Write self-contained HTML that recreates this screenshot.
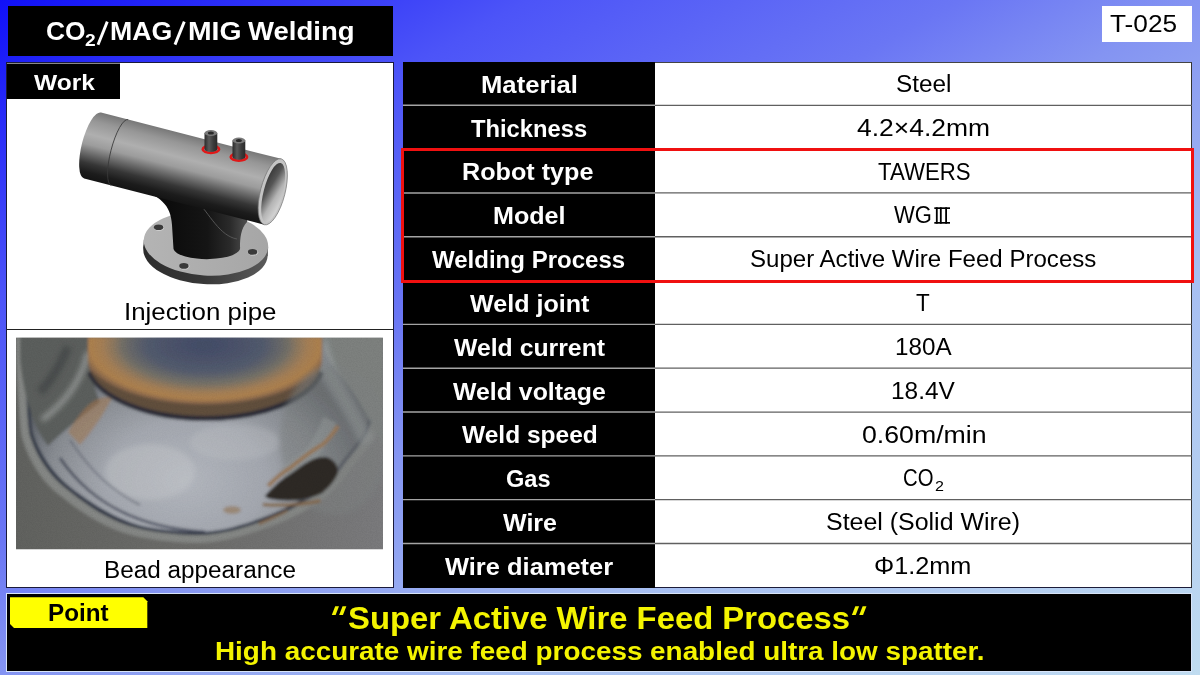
<!DOCTYPE html>
<html><head><meta charset="utf-8">
<style>
html,body{margin:0;padding:0;}
body{width:1200px;height:675px;overflow:hidden;position:relative;font-family:"Liberation Sans",sans-serif;
background:linear-gradient(to bottom right,#1010f8 0%,#4c54f8 22%,#6a76f4 40%,#8494f2 50%,#a6bef2 70%,#c0dcf0 100%);}
.t{position:absolute;white-space:nowrap;line-height:1;transform-origin:0 0;}
.box{position:absolute;box-sizing:border-box;}
</style></head><body>
<div class="box" style="left:7.5px;top:6px;width:385.5px;height:50px;background:#000;"></div>
<div class="box" style="left:1102px;top:5.5px;width:90px;height:36.5px;background:#fff;"></div>
<div class="box" style="left:6px;top:62px;width:388px;height:526px;background:#fff;border:1px solid #1a1a3a;"></div>
<div class="box" style="left:7px;top:328.5px;width:386px;height:1.2px;background:#222;"></div>
<div class="box" style="left:7px;top:63px;width:113px;height:36px;background:#000;border-top:1px solid #888;"></div>
<svg style="position:absolute;left:0;top:0" width="1200" height="675">
<defs>
<linearGradient id="pg" x1="0" y1="-34" x2="0" y2="34" gradientUnits="userSpaceOnUse">
<stop offset="0" stop-color="#787878"/><stop offset="0.15" stop-color="#979797"/><stop offset="0.35" stop-color="#afafaf"/>
<stop offset="0.5" stop-color="#9c9c9c"/><stop offset="0.63" stop-color="#6a6a6a"/><stop offset="0.77" stop-color="#363636"/><stop offset="0.9" stop-color="#1c1c1c"/><stop offset="1" stop-color="#141414"/>
</linearGradient>
<linearGradient id="inn" x1="0" y1="0" x2="1" y2="1">
<stop offset="0" stop-color="#2a2a2a"/><stop offset="0.35" stop-color="#555"/><stop offset="0.62" stop-color="#b4b4b4"/><stop offset="1" stop-color="#e8e8e8"/>
</linearGradient>
<linearGradient id="br" x1="170" y1="0" x2="245" y2="0" gradientUnits="userSpaceOnUse">
<stop offset="0" stop-color="#0c0c0c"/><stop offset="0.5" stop-color="#151515"/><stop offset="0.8" stop-color="#2a2a2a"/><stop offset="1" stop-color="#4a4a4a"/>
</linearGradient>
<linearGradient id="fside" x1="0" y1="0" x2="1" y2="0">
<stop offset="0" stop-color="#2c2c2c"/><stop offset="0.5" stop-color="#383838"/><stop offset="1" stop-color="#5a5a5a"/>
</linearGradient>
<linearGradient id="ftop" x1="0" y1="0" x2="1" y2="0">
<stop offset="0" stop-color="#b4b4b4"/><stop offset="1" stop-color="#a6a6a6"/>
</linearGradient>
<linearGradient id="nip" x1="0" y1="0" x2="1" y2="0">
<stop offset="0" stop-color="#2a2a2a"/><stop offset="0.35" stop-color="#5a5a5a"/><stop offset="0.7" stop-color="#3a3a3a"/><stop offset="1" stop-color="#2a2a2a"/>
</linearGradient>
<linearGradient id="hl" x1="60" y1="0" x2="186" y2="0" gradientUnits="userSpaceOnUse">
<stop offset="0" stop-color="#fff" stop-opacity="0"/><stop offset="1" stop-color="#fff" stop-opacity="0.32"/>
</linearGradient>
</defs>
<!-- flange -->
<g transform="rotate(3.5 206 243.5)">
<ellipse cx="206" cy="252.2" rx="62.3" ry="32" fill="url(#fside)"/>
<rect x="143.7" y="243.5" width="124.6" height="8.7" fill="url(#fside)"/>
<ellipse cx="206" cy="243.5" rx="62.3" ry="32" fill="url(#ftop)"/>
</g>
<g>
<ellipse cx="159" cy="227.7" rx="5.2" ry="3.3" fill="#cfcfcf"/>
<ellipse cx="158.6" cy="227.3" rx="4.7" ry="2.8" fill="#3a3a3a"/>
<ellipse cx="184.3" cy="266.3" rx="5.2" ry="3.3" fill="#cfcfcf"/>
<ellipse cx="183.9" cy="265.9" rx="4.7" ry="2.8" fill="#3a3a3a"/>
<ellipse cx="253" cy="252.3" rx="5.2" ry="3.3" fill="#cfcfcf"/>
<ellipse cx="252.6" cy="251.9" rx="4.7" ry="2.8" fill="#3a3a3a"/>
</g>
<!-- branch -->
<path d="M135,188 C160,195 171,205 172,225 L173.5,249 A33,11 0 0 0 240,247 C240,238 241,228 247,222 L250,200 Z" fill="url(#br)"/>
<path d="M195,198 C210,215 220,236 237,239" fill="none" stroke="#555" stroke-width="1"/>
<!-- pipe -->
<g transform="translate(92.6,145.55) rotate(14.4)">
<path d="M0,-34 L186,-34 L186,34 L0,34 A10.8,34 0 0 1 0,-34 Z" fill="url(#pg)"/>
<path d="M28,-34 A9,34 0 0 0 28,34" fill="none" stroke="#3a3a3a" stroke-width="0.8"/>

<ellipse cx="186" cy="0" rx="12.3" ry="34" fill="#c4c4c4" stroke="#777" stroke-width="0.7"/>
<ellipse cx="186.6" cy="0.6" rx="9.6" ry="30.5" fill="url(#inn)"/>
</g>
<!-- nipples -->
<ellipse cx="210.9" cy="149.3" rx="8.2" ry="3.6" fill="none" stroke="#e01818" stroke-width="2.6"/>
<path d="M204.5,133 L204.5,149 A6.4,3 0 0 0 217.3,149 L217.3,133 Z" fill="url(#nip)"/>
<ellipse cx="210.9" cy="133" rx="6.4" ry="3" fill="#7a7a7a"/>
<ellipse cx="210.9" cy="133" rx="3" ry="1.6" fill="#2a2a2a"/>
<ellipse cx="238.9" cy="157.0" rx="8.2" ry="3.6" fill="none" stroke="#e01818" stroke-width="2.6"/>
<path d="M232.5,140.5 L232.5,156.7 A6.4,3 0 0 0 245.3,156.7 L245.3,140.5 Z" fill="url(#nip)"/>
<ellipse cx="238.9" cy="140.5" rx="6.4" ry="3" fill="#7a7a7a"/>
<ellipse cx="238.9" cy="140.5" rx="3" ry="1.6" fill="#2a2a2a"/>
</svg>
<svg style="position:absolute;left:0;top:0" width="1200" height="675">
<defs>
<clipPath id="pc"><rect x="16" y="337.5" width="367" height="212"/></clipPath>
<linearGradient id="bgp" x1="0" y1="0" x2="1" y2="0">
<stop offset="0" stop-color="#5a5b58"/><stop offset="0.5" stop-color="#656563"/><stop offset="1" stop-color="#727274"/>
</linearGradient>
<radialGradient id="bead" cx="185" cy="480" r="180" gradientUnits="userSpaceOnUse" gradientTransform="translate(185 480) scale(1 0.72) translate(-185 -480)">
<stop offset="0" stop-color="#acb0b8"/><stop offset="0.45" stop-color="#9ca0a8"/><stop offset="0.75" stop-color="#80848a"/><stop offset="1" stop-color="#52565c"/>
</radialGradient>
<radialGradient id="cyl" cx="205" cy="345" r="128" gradientUnits="userSpaceOnUse" gradientTransform="translate(205 345) scale(1 0.47) translate(-205 -345)">
<stop offset="0" stop-color="#4a5266"/><stop offset="0.45" stop-color="#535a68"/><stop offset="0.65" stop-color="#6e6a60"/><stop offset="0.8" stop-color="#9c7650"/><stop offset="0.9" stop-color="#a67848"/><stop offset="0.97" stop-color="#7e6046"/><stop offset="1" stop-color="#5a4838"/>
</radialGradient>
<linearGradient id="cylside" x1="88" y1="0" x2="322" y2="0" gradientUnits="userSpaceOnUse">
<stop offset="0" stop-color="#6a5038" stop-opacity="0.6"/><stop offset="0.12" stop-color="#9a7048" stop-opacity="0.45"/><stop offset="0.3" stop-color="#a07448" stop-opacity="0"/>
<stop offset="0.7" stop-color="#a07448" stop-opacity="0"/><stop offset="0.88" stop-color="#9a7048" stop-opacity="0.45"/><stop offset="1" stop-color="#6a5038" stop-opacity="0.6"/>
</linearGradient>
<radialGradient id="cyltop" cx="205" cy="345" r="90" gradientUnits="userSpaceOnUse" gradientTransform="translate(205 345) scale(1 0.4) translate(-205 -345)">
<stop offset="0" stop-color="#3e4660" stop-opacity="0.9"/><stop offset="1" stop-color="#3e4660" stop-opacity="0"/>
</radialGradient>
<filter id="bl" x="-10%" y="-10%" width="120%" height="120%"><feGaussianBlur stdDeviation="1.5"/></filter>
<filter id="bl4" x="-30%" y="-30%" width="160%" height="160%"><feGaussianBlur stdDeviation="2.5"/></filter>
<filter id="noise" x="0" y="0" width="100%" height="100%">
<feTurbulence type="fractalNoise" baseFrequency="0.8" numOctaves="2" seed="3"/>
<feColorMatrix type="matrix" values="0 0 0 0 0.5  0 0 0 0 0.5  0 0 0 0 0.5  0 0 0 0.9 0"/>
</filter>
</defs>
<g clip-path="url(#pc)">
<rect x="16" y="337.5" width="367" height="212" fill="url(#bgp)"/>
<g filter="url(#bl)">
<!-- outer rim -->
<path d="M16,360 C18,400 20,430 22,438 C30,465 45,485 62,497 C90,520 115,532 139,537 C160,541 180,543 200,543 C230,542 255,532 277,524 C295,517 310,508 323,500 C335,490 345,478 353,466 C362,455 370,446 375,438 C380,425 383,410 383,390 L383,337 L16,337 Z" fill="#7c7e7c"/>
<path d="M24,337 C26,400 28,428 30,436 C38,460 52,478 68,490 C95,512 118,524 141,529 C162,533 182,535 200,535 C228,534 252,525 273,517 C291,510 305,502 317,494 C329,485 338,473 346,462 C355,451 362,442 367,434 C372,422 375,408 375,390 L375,337 Z" fill="#2c3240"/>
<!-- bead -->
<path d="M27,337 C29,400 31,427 33,434 C41,457 55,475 70,487 C97,508 120,520 142,526 C163,530 182,532 200,532 C227,531 251,522 272,514 C289,507 303,499 315,491 C326,482 335,471 343,460 C352,449 359,440 364,432 C369,420 372,407 372,390 L372,337 Z" fill="url(#bead)"/>
<!-- left dark ring zone -->
<path d="M20,337 L92,337 C90,365 92,385 100,402 C80,418 62,432 48,446 C32,425 24,395 20,360 Z" fill="#555856"/>
<path d="M88,352 C82,380 66,402 42,420" fill="none" stroke="#b0b4b2" stroke-width="5" opacity="0.6" filter="url(#bl4)"/>
<path d="M68,347 C60,366 52,380 40,392" fill="none" stroke="#34383a" stroke-width="8" opacity="0.6" filter="url(#bl4)"/>
<!-- top-right gray zone -->
<path d="M322,337 L383,337 L383,445 C372,425 360,398 342,378 C332,367 323,352 322,337 Z" fill="#747876"/>
<path d="M326,337 C332,368 350,392 374,440 L360,445 C345,410 325,385 312,360 Z" fill="#9ca2a4" opacity="0.55" filter="url(#bl4)"/>
<!-- orange heat tint -->
<path d="M68,432 C85,405 95,395 112,398 C105,412 95,428 80,445 Z" fill="#9a7048" opacity="0.55"/>
<!-- dark line under cylinder -->
<path d="M90,372 A118,58 0 0 0 321,372" fill="none" stroke="#262830" stroke-width="6"/>
<!-- cylinder -->
<path d="M88,337 L322,337 L322,360 A117,56 0 0 1 88,360 Z" fill="url(#cyl)"/>

<rect x="100" y="330" width="210" height="50" fill="url(#cyltop)"/>
<!-- light patches on bead -->
<ellipse cx="150" cy="472" rx="45" ry="28" fill="#c8cacc" opacity="0.35" filter="url(#bl4)"/>
<ellipse cx="235" cy="442" rx="45" ry="18" fill="#c0c2c6" opacity="0.3" filter="url(#bl4)"/>
<!-- dark streaks bottom-left -->
<path d="M60,458 C92,505 140,528 205,532" fill="none" stroke="#2c3040" stroke-width="3" opacity="0.75"/>
<path d="M70,440 C90,470 110,490 140,505" fill="none" stroke="#3c4050" stroke-width="2" opacity="0.5"/>
<ellipse cx="335" cy="440" rx="55" ry="75" fill="#747878" opacity="0.55" filter="url(#bl4)"/>
<!-- burnt patch -->
<path d="M330,420 C325,430 320,445 310,455 C300,462 290,470 282,476" fill="none" stroke="#8a9090" stroke-width="14" opacity="0.5"/>
<path d="M264.6,496.3 C272,488 280,480 287.7,475.6 C296,470 303,464 310.8,460.2 C318,457 325,456 330,458.5 C336,462 339,468 337.7,473.7 C334,482 328,488 322.3,492.9 C312,498 302,500 293.5,500.6 C284,501 275,500 268.5,498.7 Z" fill="#2a2622"/>
<path d="M268,486 C276,478 283,472 290,468 C300,460 312,450 322,445 C330,438 334,432 338,426" fill="none" stroke="#8e6e50" stroke-width="4"/>
<path d="M262.7,504.5 C285,506 305,504 320.4,500.7" fill="none" stroke="#7a5e40" stroke-width="3.5" opacity="0.85"/>
<path d="M258.8,523.9 C268,520 278,515 287.7,510.5" fill="none" stroke="#7a5e40" stroke-width="3" opacity="0.8"/>
<ellipse cx="232" cy="510" rx="9" ry="4" fill="#8a6a4a" opacity="0.6"/>
</g>
<rect x="16" y="337.5" width="367" height="212" filter="url(#noise)" opacity="0.25" style="mix-blend-mode:overlay"/>
</g>
</svg>
<div class="box" style="left:403px;top:61.5px;width:252px;height:526.6px;background:#000;"></div>
<div class="box" style="left:655px;top:61.5px;width:537px;height:526.6px;background:#fff;border-right:1px solid #333;border-bottom:1.4px solid #1c1c38;border-top:1px solid #444;"></div>
<svg style="position:absolute;left:0;top:0" width="1200" height="675"><line x1="403" y1="105.32" x2="655" y2="105.32" stroke="#a4a4a4" stroke-width="1.4"/><line x1="655" y1="105.32" x2="1192" y2="105.32" stroke="#606060" stroke-width="1.3"/><line x1="403" y1="149.13" x2="655" y2="149.13" stroke="#a4a4a4" stroke-width="1.4"/><line x1="655" y1="149.13" x2="1192" y2="149.13" stroke="#606060" stroke-width="1.3"/><line x1="403" y1="192.95" x2="655" y2="192.95" stroke="#a4a4a4" stroke-width="1.4"/><line x1="655" y1="192.95" x2="1192" y2="192.95" stroke="#606060" stroke-width="1.3"/><line x1="403" y1="236.77" x2="655" y2="236.77" stroke="#a4a4a4" stroke-width="1.4"/><line x1="655" y1="236.77" x2="1192" y2="236.77" stroke="#606060" stroke-width="1.3"/><line x1="403" y1="280.58" x2="655" y2="280.58" stroke="#a4a4a4" stroke-width="1.4"/><line x1="655" y1="280.58" x2="1192" y2="280.58" stroke="#606060" stroke-width="1.3"/><line x1="403" y1="324.40" x2="655" y2="324.40" stroke="#a4a4a4" stroke-width="1.4"/><line x1="655" y1="324.40" x2="1192" y2="324.40" stroke="#606060" stroke-width="1.3"/><line x1="403" y1="368.22" x2="655" y2="368.22" stroke="#a4a4a4" stroke-width="1.4"/><line x1="655" y1="368.22" x2="1192" y2="368.22" stroke="#606060" stroke-width="1.3"/><line x1="403" y1="412.03" x2="655" y2="412.03" stroke="#a4a4a4" stroke-width="1.4"/><line x1="655" y1="412.03" x2="1192" y2="412.03" stroke="#606060" stroke-width="1.3"/><line x1="403" y1="455.85" x2="655" y2="455.85" stroke="#a4a4a4" stroke-width="1.4"/><line x1="655" y1="455.85" x2="1192" y2="455.85" stroke="#606060" stroke-width="1.3"/><line x1="403" y1="499.67" x2="655" y2="499.67" stroke="#a4a4a4" stroke-width="1.4"/><line x1="655" y1="499.67" x2="1192" y2="499.67" stroke="#606060" stroke-width="1.3"/><line x1="403" y1="543.48" x2="655" y2="543.48" stroke="#a4a4a4" stroke-width="1.4"/><line x1="655" y1="543.48" x2="1192" y2="543.48" stroke="#606060" stroke-width="1.3"/></svg>
<div class="box" style="left:401px;top:148px;width:792.5px;height:135px;border:3px solid #f01010;"></div>
<div class="box" style="left:6px;top:593px;width:1186px;height:78.5px;background:#000;border:1px solid #d8e4f8;"></div>
<svg style="position:absolute;left:0;top:0" width="1200" height="675"><polygon points="10,597.3 143.3,597.3 147.3,601.3 147.3,628 14,628 10,624" fill="#ffff00"/></svg>
<div class="t" style="left:46.25px;top:18.47px;font-size:26.5px;font-weight:bold;color:#fff;transform:scaleX(0.9939);">CO</div>
<div class="t" style="left:84.72px;top:32.33px;font-size:16.5px;font-weight:bold;color:#fff;transform:scaleX(1.1626);">2</div>
<div class="t" style="left:110.26px;top:18.47px;font-size:26.5px;font-weight:bold;color:#fff;transform:scaleX(1.0074);">MAG</div>
<div class="t" style="left:188.16px;top:18.47px;font-size:26.5px;font-weight:bold;color:#fff;transform:scaleX(1.0690);">MIG</div>
<div class="t" style="left:248.00px;top:18.47px;font-size:26.5px;font-weight:bold;color:#fff;transform:scaleX(1.0384);">Welding</div>
<svg style="position:absolute;left:0;top:0" width="1200" height="675"><g stroke="#fff" stroke-width="2.9" stroke-linecap="butt"><line x1="98.0" y1="44.8" x2="107.3" y2="21.6"/><line x1="175.0" y1="44.6" x2="184.3" y2="21.6"/></g></svg>
<div class="t" style="left:1110.47px;top:13.16px;font-size:23.2px;font-weight:normal;color:#000;transform:scaleX(1.1316);">T-025</div>
<div class="t" style="left:33.50px;top:72.08px;font-size:22px;font-weight:bold;color:#fff;transform:scaleX(1.1158);">Work</div>
<div class="t" style="left:123.67px;top:300.61px;font-size:23.5px;font-weight:normal;color:#000;transform:scaleX(1.1008);">Injection pipe</div>
<div class="t" style="left:103.56px;top:558.53px;font-size:23px;font-weight:normal;color:#000;transform:scaleX(1.0569);">Bead appearance</div>
<div class="t" style="left:480.63px;top:72.78px;font-size:24px;font-weight:bold;color:#fff;transform:scaleX(1.0688);">Material</div>
<div class="t" style="left:471.46px;top:116.60px;font-size:24px;font-weight:bold;color:#fff;transform:scaleX(0.9899);">Thickness</div>
<div class="t" style="left:462.46px;top:160.42px;font-size:24px;font-weight:bold;color:#fff;transform:scaleX(1.0488);">Robot type</div>
<div class="t" style="left:492.97px;top:204.23px;font-size:24px;font-weight:bold;color:#fff;transform:scaleX(1.0466);">Model</div>
<div class="t" style="left:432.40px;top:248.05px;font-size:24px;font-weight:bold;color:#fff;transform:scaleX(1.0009);">Welding Process</div>
<div class="t" style="left:469.80px;top:291.87px;font-size:24px;font-weight:bold;color:#fff;transform:scaleX(1.0456);">Weld joint</div>
<div class="t" style="left:453.70px;top:335.68px;font-size:24px;font-weight:bold;color:#fff;transform:scaleX(1.0326);">Weld current</div>
<div class="t" style="left:453.20px;top:379.50px;font-size:24px;font-weight:bold;color:#fff;transform:scaleX(1.0355);">Weld voltage</div>
<div class="t" style="left:461.50px;top:423.32px;font-size:24px;font-weight:bold;color:#fff;transform:scaleX(1.0213);">Weld speed</div>
<div class="t" style="left:505.86px;top:467.13px;font-size:24px;font-weight:bold;color:#fff;transform:scaleX(0.9826);">Gas</div>
<div class="t" style="left:502.50px;top:510.95px;font-size:24px;font-weight:bold;color:#fff;transform:scaleX(1.0431);">Wire</div>
<div class="t" style="left:444.75px;top:554.77px;font-size:24px;font-weight:bold;color:#fff;transform:scaleX(1.0606);">Wire diameter</div>
<div class="t" style="left:896.21px;top:73.21px;font-size:23.5px;font-weight:normal;color:#000;transform:scaleX(1.0354);">Steel</div>
<div class="t" style="left:856.77px;top:117.02px;font-size:23.5px;font-weight:normal;color:#000;transform:scaleX(1.1247);">4.2×4.2mm</div>
<div class="t" style="left:877.66px;top:160.84px;font-size:23.5px;font-weight:normal;color:#000;transform:scaleX(0.9454);">TAWERS</div>
<div class="t" style="left:749.72px;top:248.47px;font-size:23.5px;font-weight:normal;color:#000;transform:scaleX(1.0238);">Super Active Wire Feed Process</div>
<div class="t" style="left:916.25px;top:292.29px;font-size:23.5px;font-weight:normal;color:#000;transform:scaleX(0.9556);">T</div>
<div class="t" style="left:894.88px;top:336.11px;font-size:23.5px;font-weight:normal;color:#000;transform:scaleX(1.0299);">180A</div>
<div class="t" style="left:890.87px;top:379.92px;font-size:23.5px;font-weight:normal;color:#000;transform:scaleX(1.0391);">18.4V</div>
<div class="t" style="left:861.87px;top:423.74px;font-size:23.5px;font-weight:normal;color:#000;transform:scaleX(1.1360);">0.60m/min</div>
<div class="t" style="left:826.48px;top:511.37px;font-size:23.5px;font-weight:normal;color:#000;transform:scaleX(1.0612);">Steel (Solid Wire)</div>
<div class="t" style="left:874.21px;top:555.19px;font-size:23.5px;font-weight:normal;color:#000;transform:scaleX(1.0755);">Φ1.2mm</div>
<div class="t" style="left:894.00px;top:203.81px;font-size:23.5px;font-weight:normal;color:#000;transform:scaleX(0.9362);">WG</div>
<svg style="position:absolute;left:0;top:0" width="1200" height="675"><g fill="#000"><rect x="934.3" y="207.3" width="15.7" height="1.7"/><rect x="934.3" y="222.0" width="15.7" height="1.7"/><rect x="935.9" y="207.3" width="1.8" height="16.4"/><rect x="939.9" y="207.3" width="1.8" height="16.4"/><rect x="945.2" y="207.3" width="1.8" height="16.4"/></g></svg>
<div class="t" style="left:902.59px;top:466.71px;font-size:23.5px;font-weight:normal;color:#000;transform:scaleX(0.8632);">CO</div>
<div class="t" style="left:934.80px;top:479.15px;font-size:14px;font-weight:normal;color:#000;transform:scaleX(1.1491);">2</div>
<div class="t" style="left:48.43px;top:600.98px;font-size:24px;font-weight:bold;color:#000;transform:scaleX(1.0086);">Point</div>
<div class="t" style="left:348.28px;top:602.31px;font-size:32px;font-weight:bold;color:#f4f400;transform:scaleX(1.0260);">Super Active Wire Feed Process</div>
<svg style="position:absolute;left:0;top:0" width="1200" height="675"><g fill="#f4f400"><polygon points="335.20,606.3 339.00,606.3 335.60,615.1 331.80,615.1"/><polygon points="342.55,606.3 346.35,606.3 342.95,615.1 339.15,615.1"/><polygon points="855.30,606.3 859.10,606.3 855.70,615.1 851.90,615.1"/><polygon points="862.65,606.3 866.45,606.3 863.05,615.1 859.25,615.1"/></g></svg>
<div class="t" style="left:214.89px;top:638.71px;font-size:25.5px;font-weight:bold;color:#f4f400;transform:scaleX(1.0926);">High accurate wire feed process enabled ultra low spatter.</div>
</body></html>
